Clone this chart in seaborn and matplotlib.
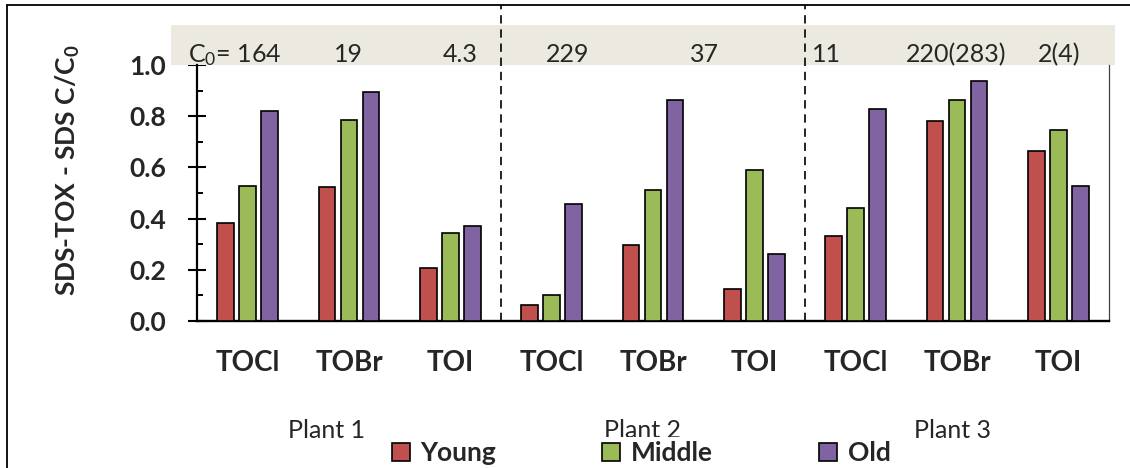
import matplotlib
matplotlib.use("Agg")
import matplotlib.pyplot as plt
from matplotlib.lines import Line2D
from matplotlib.patches import Rectangle
from matplotlib.ticker import MultipleLocator, FixedLocator
import seaborn as sns
import pandas as pd

# ---------------- data ----------------
plants = ["Plant 1", "Plant 2", "Plant 3"]
species = ["TOCl", "TOBr", "TOI"]
ages = ["Young", "Middle", "Old"]
young = [0.383, 0.524, 0.206, 0.062, 0.297, 0.124, 0.332, 0.783, 0.665]
middle = [0.529, 0.787, 0.345, 0.101, 0.512, 0.590, 0.441, 0.862, 0.748]
old = [0.821, 0.893, 0.371, 0.456, 0.864, 0.262, 0.829, 0.939, 0.528]
y_ticks = [0.0, 0.2, 0.4, 0.6, 0.8, 1.0]
c0_labels = ["C$_0$= 164", "19", "4.3", "229", "37", "", "11", "220(283)", "2(4)"]
c0_offsets = [-0.13, -0.01, 0.10, 0.16, 0.51, 0.0, -0.29, -0.01, 0.01]
colors = ["#C0504D", "#9BBB59", "#8064A2"]

groups = [f"{p}|{s}" for p in plants for s in species]
rows = []
for age, vals in zip(ages, [young, middle, old]):
    for g, v in zip(groups, vals):
        rows.append({"group": g, "Age": age, "value": v})
df = pd.DataFrame(rows)

# ---------------- style ----------------
sns.set_style("white")
plt.rcParams["font.family"] = ["Lato", "DejaVu Sans"]
plt.rcParams["mathtext.fontset"] = "custom"
plt.rcParams["mathtext.rm"] = "Lato"
plt.rcParams["mathtext.it"] = "Lato"
plt.rcParams["mathtext.bf"] = "Lato:bold"

W, H = 1130, 468
fig = plt.figure(figsize=(W / 100, H / 100), dpi=100)
ax = fig.add_axes([197 / W, (H - 321) / H, 912 / W, (321 - 65) / H])

sns.barplot(data=df, x="group", y="value", hue="Age", order=groups,
            hue_order=ages, palette=colors, saturation=1, width=0.65, gap=0.23,
            edgecolor="black", linewidth=1.2, errorbar=None, ax=ax,
            zorder=3)

ax.set_xlabel("")
ax.set_ylabel("")

# ticks
ax.set_xticks(range(len(groups)))
ax.set_xticklabels([g.split("|")[1] for g in groups], fontsize=20,
                   fontweight="bold")
ax.tick_params(axis="x", length=0, pad=21)
ax.yaxis.set_major_locator(FixedLocator(y_ticks))
ax.yaxis.set_minor_locator(MultipleLocator(0.1))
ax.set_yticklabels([f"{t:.1f}" for t in y_ticks], fontsize=19,
                   fontweight="bold")
ax.tick_params(axis="y", which="major", direction="inout", length=13,
               width=1.5, pad=16, left=True, color="black")
ax.tick_params(axis="y", which="minor", direction="in", length=4.5,
               width=1.4, left=True, color="black")
ax.set_xlim(-0.5, len(groups) - 0.5)
ax.set_ylim(0, 1.0)

# spines
ax.spines["top"].set_visible(False)
ax.spines["left"].set_linewidth(1.6)
ax.spines["left"].set_color("black")
ax.spines["bottom"].set_linewidth(1.7)
ax.spines["bottom"].set_color("black")
ax.spines["right"].set_linewidth(0.9)
ax.spines["right"].set_color("#404040")

# band with C0 values
ax.add_patch(Rectangle((-0.757, 1.0), 9.317, 0.156, facecolor="#ECEAE0",
                       edgecolor="none", clip_on=False, zorder=1))
for i, (lab, off) in enumerate(zip(c0_labels, c0_offsets)):
    if lab:
        ax.text(i + off, 1.012, lab, ha="center", va="baseline", fontsize=18,
                clip_on=False, zorder=2)

# dashed separators between plants
for xsep in [2.5, 5.5]:
    ax.axvline(xsep, ymin=0, ymax=1.235, color="black", lw=1.2,
               linestyle=(0, (5, 3.5)), clip_on=False, zorder=4)

# y label
fig.text(68 / W, 1 - 170 / H, "SDS-TOX - SDS C/C$_\\mathbf{0}$", rotation=90,
         ha="center", va="center", fontsize=19, fontweight="bold")

# plant labels (below legend)
for name, xc in zip(plants, [327, 642, 952]):
    fig.text(xc / W, 1 - 430 / H, name, ha="center", va="center",
             fontsize=18, zorder=1)

# legend
handles, labels = ax.get_legend_handles_labels()
ax.get_legend().remove()
leg = fig.legend(handles, labels, loc="center", bbox_to_anchor=(641 / W, 1 - 453 / H),
                 ncol=3, frameon=True, facecolor="white", edgecolor="none",
                 framealpha=1, fancybox=False, borderpad=0.15,
                 prop={"family": "Lato", "weight": "bold", "size": 19},
                 handlelength=0.7, handleheight=0.7, handletextpad=0.4,
                 columnspacing=4.0)
leg.set_zorder(5)

# outer frame (top + left)
fig.add_artist(Line2D([7 / W, 1], [1 - 5 / H, 1 - 5 / H], transform=fig.transFigure,
                      color="black", lw=1.3))
fig.add_artist(Line2D([7 / W, 7 / W], [0, 1 - 5 / H], transform=fig.transFigure,
                      color="black", lw=1.3))

fig.savefig("out.png", dpi=100)
